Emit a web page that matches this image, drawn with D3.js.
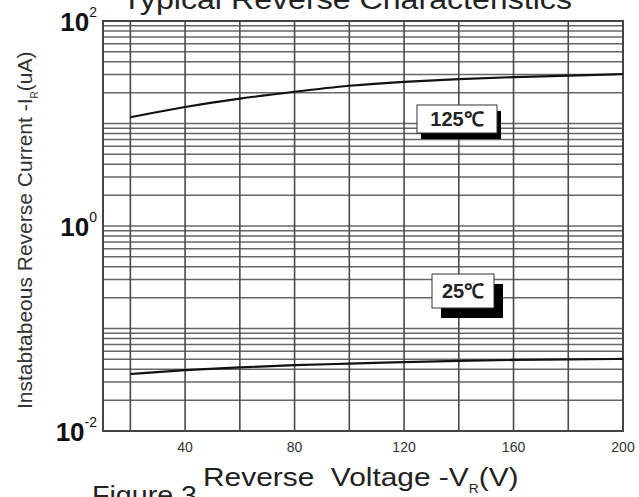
<!DOCTYPE html>
<html>
<head>
<meta charset="utf-8">
<script src="https://cdn.jsdelivr.net/npm/d3@7"></script>
<style>
    body { margin: 0; background: #fff; }
    svg { display: block; }
    text { font-family: "Liberation Sans", Arial, sans-serif; }
</style>
</head>
<body>
<svg id="chart" width="639" height="497"></svg>
<script>
// Typical reverse characteristics (Figure 3)

const voltage = [20, 40, 60, 80, 100, 120, 140, 160, 180, 200];
const current125 = [11.5, 14.6, 17.6, 20.4, 23.6, 25.6, 27.2, 28.4, 29.2, 30.4];
const current25 = [0.036, 0.0394, 0.0418, 0.044, 0.0454, 0.047, 0.0484, 0.0494, 0.050, 0.0505];

const xTickLabels = [40, 80, 120, 160, 200];
const xGrid = [20, 40, 60, 80, 100, 120, 140, 160, 180];
const yDecades = [
    { value: 100, exp: '2' },
    { value: 1, exp: '0' },
    { value: 0.01, exp: '-2' }
];

const svg = d3.select('#chart');

const x = d3.scaleLinear().domain([10, 200]).range([103, 623]);
const y = d3.scaleLog().domain([0.01, 100]).range([431, 21]);

// Minor + major horizontal grid (1..9 per decade)
const yGrid = [];
[-2, -1, 0, 1].forEach(k => {
    for (let m = 1; m <= 9; m++) yGrid.push(m * Math.pow(10, k));
});

const grid = svg.append('g');

grid.selectAll('line.h')
    .data(yGrid)
    .enter()
    .append('line')
    .attr('x1', x(10))
    .attr('x2', x(200))
    .attr('y1', d => y(d))
    .attr('y2', d => y(d))
    .attr('stroke', '#666')
    .attr('stroke-width', 1.5);

grid.selectAll('line.v')
    .data(xGrid)
    .enter()
    .append('line')
    .attr('x1', d => x(d))
    .attr('x2', d => x(d))
    .attr('y1', y(100))
    .attr('y2', y(0.01))
    .attr('stroke', '#4a4a4a')
    .attr('stroke-width', 1.6);

// Frame
svg.append('rect')
    .attr('x', x(10))
    .attr('y', y(100))
    .attr('width', x(200) - x(10))
    .attr('height', y(0.01) - y(100))
    .attr('fill', 'none')
    .attr('stroke', '#444')
    .attr('stroke-width', 2);

// Curves
const line = series => d3.line()
    .x((d, i) => x(voltage[i]))
    .y(d => y(d))
    .curve(d3.curveBasis)(series);

[current125, current25].forEach(series => {
    svg.append('path')
        .attr('d', line(series))
        .attr('fill', 'none')
        .attr('stroke', '#111')
        .attr('stroke-width', 2.2);
});

// Y tick labels (10^n)
yDecades.forEach(d => {
    const t = svg.append('text')
        .attr('x', 97)
        .attr('y', y(d.value) + 10)
        .attr('text-anchor', 'end')
        .attr('fill', '#111');
    t.append('tspan')
        .attr('font-size', 26)
        .attr('font-weight', 'bold')
        .text('10');
    t.append('tspan')
        .attr('font-size', 14)
        .attr('dy', -14)
        .text(d.exp);
});

// X tick labels
svg.selectAll('text.xtick')
    .data(xTickLabels)
    .enter()
    .append('text')
    .attr('x', d => x(d))
    .attr('y', 452)
    .attr('text-anchor', 'middle')
    .attr('font-size', 14)
    .attr('fill', '#333')
    .text(d => d);

// Title (partly cut at the top)
svg.append('text')
    .attr('x', 122)
    .attr('y', 9)
    .attr('font-size', 27)
    .attr('fill', '#222')
    .attr('textLength', 450)
    .attr('lengthAdjust', 'spacingAndGlyphs')
    .text('Typical Reverse Characteristics');

// X axis label (horizontally stretched like the source)
const xl = svg.append('text')
    .attr('transform', 'translate(203,486) scale(1.15,1)')
    .attr('font-size', 26)
    .attr('fill', '#222');
xl.append('tspan').text('Reverse\u00a0 Voltage -V');
xl.append('tspan').attr('font-size', 12).attr('dy', 7).text('R');
xl.append('tspan').attr('dy', -7).text('(V)');

svg.append('text')
    .attr('transform', 'translate(92,504) scale(1.1,1)')
    .attr('font-size', 26)
    .attr('fill', '#222')
    .text('Figure 3');

// Y axis label
const yl = svg.append('text')
    .attr('transform', 'translate(32,409) rotate(-90)')
    .attr('font-size', 21)
    .attr('fill', '#333');
yl.append('tspan').text('Instabtabeous Reverse Current -I');
yl.append('tspan').attr('font-size', 10).attr('dy', 6).text('R');
yl.append('tspan').attr('dy', -6).text('(uA)');

// Temperature tags with drop shadow
const tags = [
    { text: '125\u2103', bx: 417, by: 105, w: 80, h: 28, sx: 4, sy: 6 },
    { text: '25\u2103', bx: 432, by: 274, w: 62, h: 34, sx: 9, sy: 10 }
];

tags.forEach(t => {
    svg.append('rect')
        .attr('x', t.bx + t.sx)
        .attr('y', t.by + t.sy)
        .attr('width', t.w)
        .attr('height', t.h)
        .attr('fill', '#000');
    svg.append('rect')
        .attr('x', t.bx)
        .attr('y', t.by)
        .attr('width', t.w)
        .attr('height', t.h)
        .attr('fill', '#fff')
        .attr('stroke', '#333')
        .attr('stroke-width', 1);
    svg.append('text')
        .attr('x', t.bx + t.w / 2)
        .attr('y', t.by + t.h / 2 + 7)
        .attr('text-anchor', 'middle')
        .attr('font-size', 20)
        .attr('font-weight', 'bold')
        .attr('fill', '#222')
        .text(t.text);
});
</script>
</body>
</html>
